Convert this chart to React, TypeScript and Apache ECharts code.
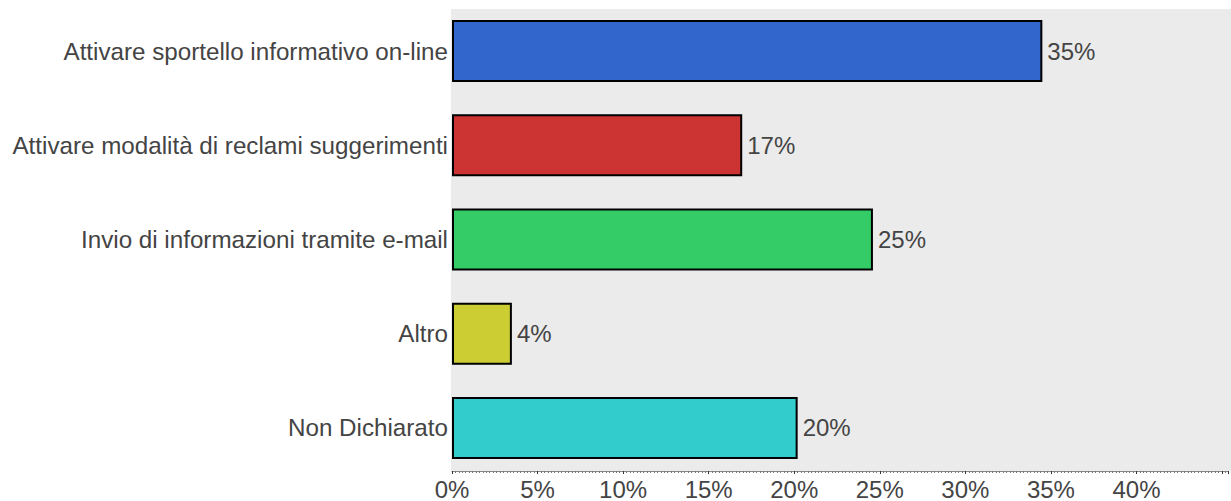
import React, { useEffect, useRef } from "react";
import * as echarts from "echarts";

const categories = [
  "Attivare sportello informativo on-line",
  "Attivare modalità di reclami suggerimenti",
  "Invio di informazioni tramite e-mail",
  "Altro",
  "Non Dichiarato",
];
const values = [34.5, 16.96, 24.6, 3.5, 20.2];
const valueLabels = ["35%", "17%", "25%", "4%", "20%"];
const colors = ["#3366cc", "#cc3333", "#33cc66", "#cccc33", "#33cccc"];
const xMax = 45.35;

export default function App() {
  const ref = useRef<HTMLDivElement>(null);
  useEffect(() => {
    if (!ref.current) return;
    const chart = echarts.init(ref.current, null, { renderer: "svg" });
    const font = "'Liberation Sans', Arial, sans-serif";
    chart.setOption({
      animation: false,
      textStyle: { fontFamily: font },
      grid: [
        { left: 451, top: 9, right: 0, height: 462, show: true, backgroundColor: "#ebebeb", borderWidth: 0 },
        { left: 452, top: 4, right: 0, bottom: 25 },
      ],
      xAxis: [
        { gridIndex: 0, type: "value", show: false, min: 0, max: 1 },
        {
          gridIndex: 1,
          type: "value",
          min: 0,
          max: xMax,
          interval: 5,
          offset: -4,
          axisLine: { show: true, lineStyle: { color: "#888", width: 1 } },
          axisTick: { show: true, length: 3, inside: false, lineStyle: { color: "#333" } },
          minorTick: { show: true, splitNumber: 25, length: 2, lineStyle: { color: "#777" } },
          splitLine: { show: false },
          axisLabel: {
            color: "#444",
            fontSize: 24,
            fontFamily: font,
            margin: 6,
            formatter: (v: number) => (v > 40.5 ? "" : `${v}%`),
          },
        },
      ],
      yAxis: [
        { gridIndex: 0, type: "value", show: false, min: 0, max: 1 },
        {
          gridIndex: 1,
          type: "category",
          data: categories,
          inverse: true,
          axisLine: { show: false },
          axisTick: { show: false },
          axisLabel: { color: "#444", fontSize: 24.2, fontFamily: font, margin: 4 },
        },
      ],
      series: [
        {
          type: "bar",
          xAxisIndex: 1,
          yAxisIndex: 1,
          barWidth: 62,
          data: values.map((v, i) => ({
            value: v,
            itemStyle: { color: colors[i], borderColor: "#000", borderWidth: 2 },
          })),
          label: {
            show: true,
            position: "right",
            distance: 5,
            color: "#444",
            fontSize: 24,
            fontFamily: font,
            formatter: (p: any) => valueLabels[p.dataIndex],
          },
        },
      ],
    });
    return () => chart.dispose();
  }, []);
  return <div ref={ref} style={{ width: 1231, height: 501, position: "absolute", left: 0, top: 0 }} />;
}
